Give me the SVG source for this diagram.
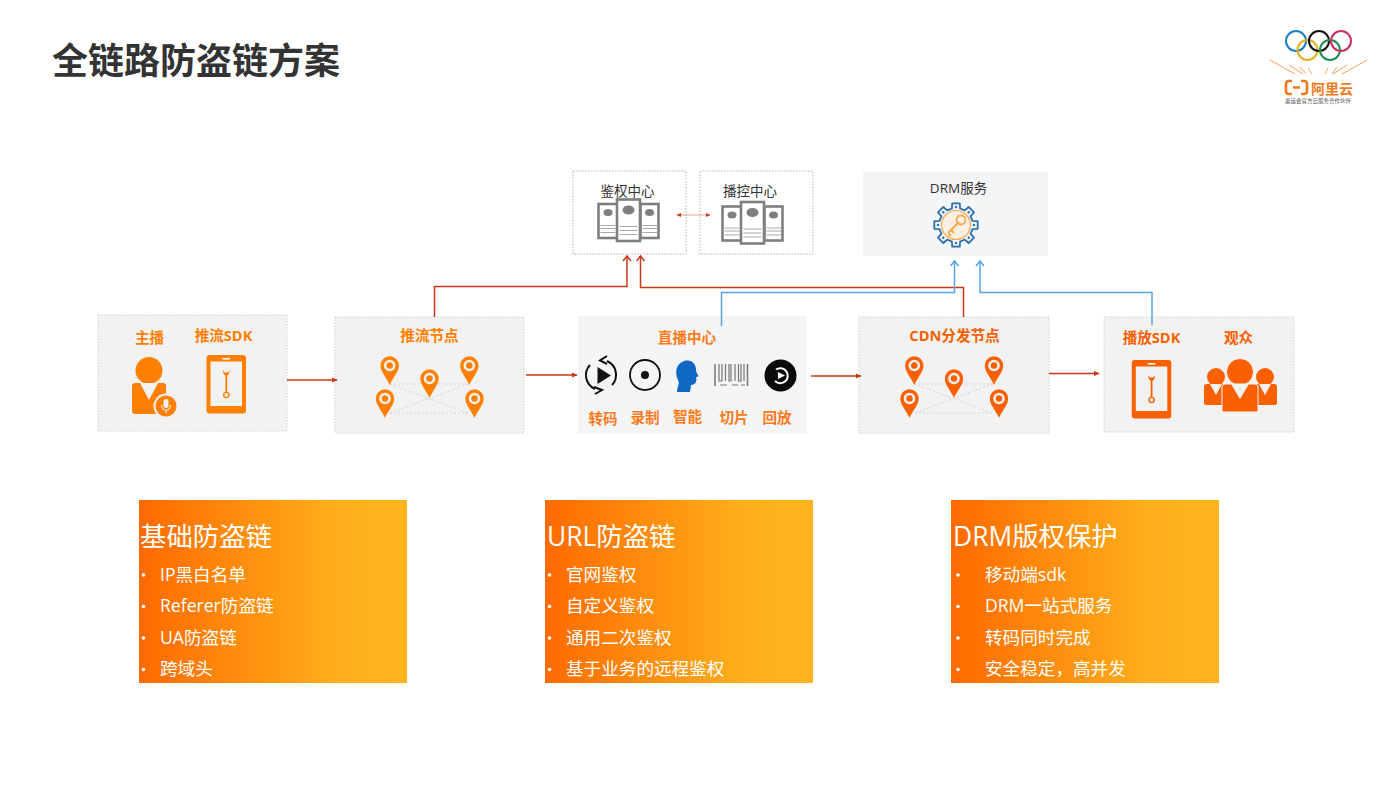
<svg xmlns="http://www.w3.org/2000/svg" xmlns:xlink="http://www.w3.org/1999/xlink" width="1400" height="788" viewBox="0 0 1400 788">
<style>
text{font-family:"Open Sans","Noto Sans CJK SC",sans-serif}
.title{font-family:"Noto Sans CJK SC",sans-serif;font-size:36px;font-weight:700;fill:#333}
.panel{fill:#f2f2f2;stroke:#d0d0d0;stroke-width:1;stroke-dasharray:1.5 1.5}
.soft{fill:#f3f5f7}
.dash{fill:#fff;stroke:#b5b5b5;stroke-width:1;stroke-dasharray:1.5 1.5}
.lab{font-size:14.6px;font-weight:700;text-anchor:middle}
.or1{fill:#ff8000}.or2{fill:#fa5f00}.or3{fill:#ff7a1a}
.dark{font-size:13.5px;fill:#333;text-anchor:middle}
.h{font-size:26.4px;fill:#fff;font-weight:400}
.li{font-size:17.6px;fill:#fff;font-weight:400}
.red{fill:none;stroke:#c8391a;stroke-width:1.5}
.blue{fill:none;stroke:#5aa5e6;stroke-width:1.5}
.mesh{fill:none;stroke:#d4d4d4;stroke-width:1;stroke-dasharray:2 2}
.srv{fill:#fff;stroke:#7f7f7f;stroke-width:2.6}
.ray{stroke:#f5a25d;stroke-width:1;fill:none}
</style>
<defs>
<linearGradient id="band" x1="0" y1="0" x2="1" y2="0">
<stop offset="0" stop-color="#ff6a00"/><stop offset="0.75" stop-color="#ffb01c"/><stop offset="1" stop-color="#ffb41e"/>
</linearGradient>
<marker id="ah-red" markerWidth="6" markerHeight="6" refX="5" refY="3" orient="auto" markerUnits="userSpaceOnUse"><path d="M0,0.4L5.5,3L0,5.6Z" fill="#c8391a"/></marker>
<marker id="ah-red-open" markerWidth="10" markerHeight="10" refX="8" refY="5" orient="auto" markerUnits="userSpaceOnUse"><path d="M3,1L8,5L3,9" fill="none" stroke="#c8391a" stroke-width="1.5"/></marker>
<marker id="ah-blue-open" markerWidth="10" markerHeight="10" refX="8" refY="5" orient="auto" markerUnits="userSpaceOnUse"><path d="M3,1L8,5L3,9" fill="none" stroke="#5aa5e6" stroke-width="1.5"/></marker>
<marker id="ah-thin" markerWidth="5" markerHeight="5" refX="4" refY="2.5" orient="auto-start-reverse" markerUnits="userSpaceOnUse"><path d="M0,0.4L4.5,2.5L0,4.6Z" fill="#c8391a"/></marker>
<g id="pin">
<path d="M0,19.5C-2.5,13-9.2,6.5-9.2,0A9.2,9.2 0 1 1 9.2,0C9.2,6.5 2.5,13 0,19.5Z" fill="currentColor"/>
<circle r="5.800" fill="#f2f2f2"/><circle r="3.200" fill="currentColor"/>
</g>
<g id="mesh">
<path class="mesh" d="M0,0H78M0,0L78,29M78,0L0,29M0,29H78"/>
</g>
<g id="tablet">
<rect width="39.5" height="58.5" rx="3" fill="currentColor"/>
<rect x="4" y="6.5" width="31.5" height="44.5" fill="#f2f2f2"/>
<rect x="16" y="3" width="7.5" height="1.6" fill="#f2f2f2"/>
<path d="M16.500,15C16.200,18 17.500,20 18.900,20.600V37H20.700V20.600C22.100,20 23.400,18 23.100,15L21.600,17.400H18Z" fill="currentColor"/>
<circle cx="19.800" cy="40" r="2.600" fill="#f2f2f2" stroke="currentColor" stroke-width="1.400"/>
</g>
<g id="server">
<rect x="0" y="4.5" width="19" height="34" class="srv"/>
<rect x="42" y="4.5" width="18" height="34" class="srv"/>
<rect x="18.5" y="0" width="23" height="41.5" class="srv"/>
<ellipse cx="9.5" cy="13" rx="4.5" ry="3.6" fill="#7f7f7f"/>
<ellipse cx="30" cy="10.5" rx="6" ry="4.6" fill="#7f7f7f"/>
<ellipse cx="51" cy="13" rx="4.5" ry="3.6" fill="#7f7f7f"/>
<path d="M2,26H17M2,29H17M2,33H17M44,26H59M44,29H59M44,33H59M21,27H39M21,31H39M21,35H39" stroke="#a8a8a8" stroke-width="1" fill="none"/>
</g>
</defs>

<text class="title" x="52" y="74">全链路防盗链方案</text>

<g id="logo">
<g fill="none" stroke-width="2">
<circle cx="1296" cy="41" r="10" stroke="#1f7fc0"/>
<circle cx="1307.5" cy="50" r="10" stroke="#e8b021"/>
<circle cx="1319" cy="41" r="10" stroke="#111"/>
<circle cx="1330" cy="50" r="10" stroke="#1f8f50"/>
<circle cx="1341" cy="41" r="10" stroke="#c9305f"/>
</g>
<path class="ray" d="M1270,60L1295,74M1289,65L1303,74M1299,67L1306,73M1308,68L1312,74M1328,68L1325,74M1337,67L1332,74M1347,65L1333,74M1367,60L1342,74"/>
<path d="M1292,81H1289Q1286,81 1286,84V91Q1286,94 1289,94H1292M1301,81H1304Q1307,81 1307,84V91Q1307,94 1304,94H1301M1293,87.5H1300" fill="none" stroke="#f47a20" stroke-width="2.600"/>
<text x="1311" y="94" font-size="14" font-weight="700" fill="#f47a20">阿里云</text>
<text x="1285" y="103" font-size="5.500" fill="#555">奥运会官方云服务合作伙伴</text>
</g>

<g id="auth-center">
<rect class="dash" x="573" y="171" width="113" height="83"/>
<text class="dark" x="627.500" y="196">鉴权中心</text>
<use href="#server" x="598.500" y="199.500"/>
</g>
<g id="control-center">
<rect class="dash" x="700" y="171" width="113" height="83"/>
<text class="dark" x="750" y="196">播控中心</text>
<use href="#server" x="722.500" y="202"/>
</g>
<g id="drm-service">
<rect class="soft" x="863" y="172" width="185" height="84"/>
<text class="dark" x="958.500" y="193">DRM服务</text>
<g transform="translate(956 225)">
<circle r="14.500" fill="#f9efe2" stroke="#f5a94b" stroke-width="1.200"/>
<path d="M-8,8L3,-3M-5,5L-2,8M-8,8L-5,11" fill="none" stroke="#f5a94b" stroke-width="1.800"/>
<circle cx="5" cy="-5" r="4.500" fill="none" stroke="#f5a94b" stroke-width="1.800"/>
<path d="M-4.100,-16.500L-3.800,-21.700H3.800L4.100,-16.500L8.770,-14.570L12.660,-18.030L18.030,-12.660L14.570,-8.770L16.500,-4.100L21.700,-3.800V3.800L16.500,4.100L14.570,8.770L18.030,12.660L12.660,18.030L8.770,14.570L4.100,16.500L3.800,21.700H-3.800L-4.100,16.500L-8.770,14.570L-12.660,18.030L-18.030,12.660L-14.570,8.770L-16.500,4.100L-21.700,3.800V-3.800L-16.500,-4.100L-14.570,-8.770L-18.030,-12.660L-12.660,-18.030L-8.770,-14.570Z" fill="none" stroke="#2a6fb0" stroke-width="1.800" stroke-linejoin="round"/>
<g fill="#2a6fb0"><circle cy="-18" r="1.200"/><circle cx="18" r="1.200"/><circle cy="18" r="1.200"/><circle cx="-18" r="1.200"/><circle cx="12.700" cy="-12.700" r="1.200"/><circle cx="12.700" cy="12.700" r="1.200"/><circle cx="-12.700" cy="12.700" r="1.200"/><circle cx="-12.700" cy="-12.700" r="1.200"/></g>
</g>
</g>

<g id="broadcaster-sdk">
<rect class="panel" x="98" y="315" width="189" height="116"/>
<text class="lab or1" x="149.500" y="343">主播</text>
<text class="lab or1" x="223.500" y="341">推流SDK</text>
<circle cx="149" cy="370.500" r="13.500" fill="#ff8000"/>
<path d="M135,383H163Q166,383 166,386V414H135Q132,414 132,411V386Q132,383 135,383Z" fill="#ff8000"/>
<path d="M140,383H158L149,400Z" fill="#f2f2f2"/>
<circle cx="166" cy="406" r="12.500" fill="#f2f2f2"/>
<circle cx="166" cy="406" r="10.500" fill="#ff8000"/>
<rect x="163.500" y="399" width="5" height="9" rx="2.500" fill="#f2f2f2"/>
<path d="M161.500,405C161.500,412 170.500,412 170.500,405M166,410V413" fill="none" stroke="#f2f2f2" stroke-width="1.200"/>
<use href="#tablet" x="206.500" y="355" color="#ff8000"/>
</g>

<g id="push-node">
<rect class="panel" x="335" y="317" width="189" height="116"/>
<text class="lab or1" x="429.500" y="341">推流节点</text>
<use href="#mesh" x="390" y="384"/>
<g color="#ff8000">
<use href="#pin" x="389.700" y="365.500"/><use href="#pin" x="429.500" y="378.500"/><use href="#pin" x="469.300" y="365.500"/><use href="#pin" x="385" y="398.500"/><use href="#pin" x="474.500" y="398.500"/>
</g>
</g>

<g id="live-center">
<rect class="soft" x="578" y="316" width="229" height="117"/>
<text class="lab or3" x="687" y="343">直播中心</text>
<path d="M590,365A15,15 0 0 0 595,389M612,385A15,15 0 0 0 607,361M607,356L600,360.500L607,364M595,394L602,390L594,387" fill="none" stroke="#111" stroke-width="2"/>
<path d="M597.500,367L611,375.500L597.500,384Z" fill="#111"/>
<circle cx="645" cy="375" r="15" fill="none" stroke="#111" stroke-width="1.800"/>
<circle cx="645" cy="375" r="4" fill="#111"/>
<path d="M684,361C692,359 696,364 696,370C696,372 698,375 698.500,376L696,377.500C697,381 696,385 691,385L690,392H677C677,387 680,384 678,380C675,374 675,364 684,361Z" fill="#0f68c4"/>
<g fill="none" stroke="#777">
<path d="M715,364V386M747.500,364V386" stroke-width="1.500"/>
<path d="M719,364V381h3V364M725.500,364V381M729,364V381h2V364M735,364V381M738.500,364V381h2.500V364M744,364V381" stroke-width="1.200"/>
<path d="M720,385h7M732,385h6M741,385h4" stroke-width="1"/>
</g>
<circle cx="780.500" cy="375.500" r="16" fill="#0a0a0a"/>
<path d="M776,369.500A7.500,7.500 0 1 1 775,381" fill="none" stroke="#fff" stroke-width="2"/>
<path d="M778,372L785,375.500L778,379Z" fill="#fff"/>
<text class="lab or3" x="603" y="424">转码</text>
<text class="lab or3" x="645" y="423">录制</text>
<text class="lab or3" x="687.500" y="422">智能</text>
<text class="lab or3" x="734" y="423">切片</text>
<text class="lab or3" x="777" y="423">回放</text>
</g>

<g id="cdn-node">
<rect class="panel" x="859" y="317" width="190" height="116"/>
<text class="lab or2" x="954.500" y="341">CDN分发节点</text>
<use href="#mesh" x="914.500" y="384"/>
<g color="#fa5f00">
<use href="#pin" x="914.300" y="365.500"/><use href="#pin" x="954" y="378.500"/><use href="#pin" x="994" y="365.500"/><use href="#pin" x="909.500" y="398.500"/><use href="#pin" x="999" y="398.500"/>
</g>
</g>

<g id="player-audience">
<rect class="panel" x="1104" y="317" width="190" height="115"/>
<text class="lab or2" x="1151.500" y="343">播放SDK</text>
<text class="lab or2" x="1238.500" y="343">观众</text>
<use href="#tablet" x="1131.800" y="360" color="#fa5f00"/>
<g fill="#fa5f00">
<circle cx="1216" cy="377" r="9"/><circle cx="1265" cy="377" r="9"/>
<path d="M1207,384H1225V405H1206Q1204,405 1204,403V387Q1204,384 1207,384ZM1256,384H1274Q1277,384 1277,387V403Q1277,405 1275,405H1256Z"/>
<path d="M1210,384L1216,395L1222,384Z" fill="#f2f2f2"/>
<path d="M1259,384L1265,395L1271,384Z" fill="#f2f2f2"/>
<circle cx="1240" cy="372" r="13.500" stroke="#f2f2f2" stroke-width="1"/>
<path d="M1225,384H1255Q1258,384 1258,387V411Q1258,412 1256,412H1224Q1222,412 1222,411V387Q1222,384 1225,384Z" stroke="#f2f2f2" stroke-width="1"/>
</g>
<path d="M1231,384L1240,399L1249,384Z" fill="#f2f2f2"/>
</g>

<g id="basic-protection">
<rect x="139" y="500" width="268" height="183" fill="url(#band)"/>
<text class="h" x="140" y="546">基础防盗链</text>
<g fill="#fff"><circle cx="143.500" cy="575" r="1.800"/><circle cx="143.500" cy="606.500" r="1.800"/><circle cx="143.500" cy="638" r="1.800"/><circle cx="143.500" cy="669.500" r="1.800"/></g>
<text class="li" x="160" y="581">IP黑白名单</text>
<text class="li" x="160" y="612">Referer防盗链</text>
<text class="li" x="160" y="644">UA防盗链</text>
<text class="li" x="160" y="675">跨域头</text>
</g>

<g id="url-protection">
<rect x="545" y="500" width="268" height="183" fill="url(#band)"/>
<text class="h" x="547" y="546">URL防盗链</text>
<g fill="#fff"><circle cx="549.500" cy="575" r="1.800"/><circle cx="549.500" cy="606.500" r="1.800"/><circle cx="549.500" cy="638" r="1.800"/><circle cx="549.500" cy="669.500" r="1.800"/></g>
<text class="li" x="566" y="581">官网鉴权</text>
<text class="li" x="566" y="612">自定义鉴权</text>
<text class="li" x="566" y="644">通用二次鉴权</text>
<text class="li" x="566" y="675">基于业务的远程鉴权</text>
</g>

<g id="drm-protection">
<rect x="951" y="500" width="268" height="183" fill="url(#band)"/>
<text class="h" x="953" y="546">DRM版权保护</text>
<g fill="#fff"><circle cx="958" cy="575" r="1.800"/><circle cx="958" cy="606.500" r="1.800"/><circle cx="958" cy="638" r="1.800"/><circle cx="958" cy="669.500" r="1.800"/></g>
<text class="li" x="985" y="581">移动端sdk</text>
<text class="li" x="985" y="612">DRM一站式服务</text>
<text class="li" x="985" y="644">转码同时完成</text>
<text class="li" x="985" y="675">安全稳定，高并发</text>
</g>

<g id="connectors">
<path class="red" marker-end="url(#ah-red)" d="M287,380H337"/>
<path class="red" marker-end="url(#ah-red)" d="M526,375H577"/>
<path class="red" marker-end="url(#ah-red)" d="M811,376H861"/>
<path class="red" marker-end="url(#ah-red)" d="M1049,373.500H1099"/>
<path class="red" marker-end="url(#ah-red-open)" d="M434.500,317V286.500H627V256"/>
<path class="red" marker-end="url(#ah-red-open)" d="M963.500,317V287.500H640.500V256"/>
<path class="blue" marker-end="url(#ah-blue-open)" d="M721.500,326V292.500H954.500V261"/>
<path class="blue" marker-end="url(#ah-blue-open)" d="M1152,325V292.500H980V261"/>
<path d="M677,215H710" fill="none" stroke="#e58a78" stroke-width="0.800" marker-start="url(#ah-thin)" marker-end="url(#ah-thin)"/>
</g>
</svg>
